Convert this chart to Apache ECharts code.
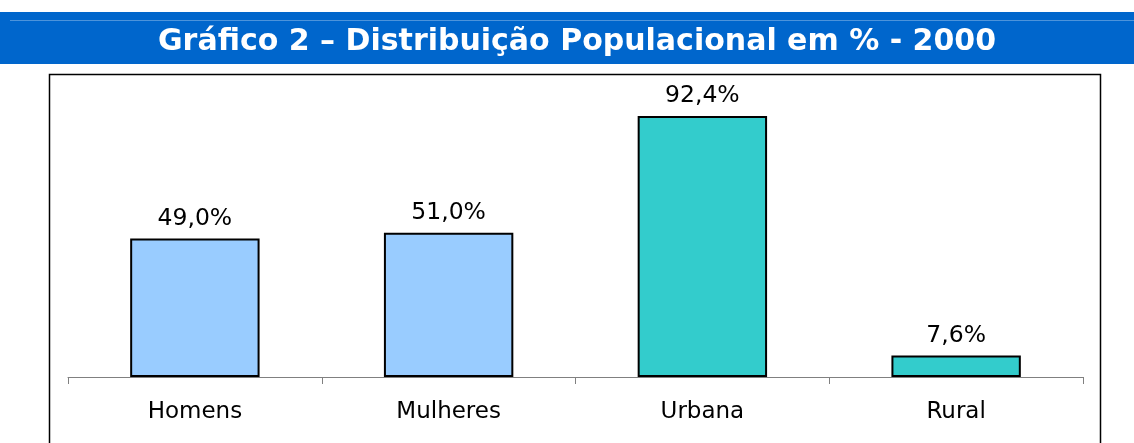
<!DOCTYPE html>
<html>
<head>
    <meta charset="utf-8">
    <title>Gráfico 2</title>
    <script src="https://cdn.jsdelivr.net/npm/echarts@6/dist/echarts.min.js"></script>
    <style>
        html, body {
            margin: 0;
            padding: 0;
            width: 100%;
            height: 100%;
            overflow: hidden;
            background: #ffffff;
        }
        #chart {
            width: 1134px;
            height: 443px;
        }
    </style>
</head>
<body>
    <div id="chart"></div>
    <script>
        // dados
        const categorias = ['Homens', 'Mulheres', 'Urbana', 'Rural'];
        const valores = [49.0, 51.0, 92.4, 7.6];
        const cores = ['#99CCFF', '#99CCFF', '#33CCCC', '#33CCCC'];
        const titulo = 'Gráfico 2 – Distribuição Populacional em % - 2000';

        const chart = echarts.init(document.getElementById('chart'), null, { renderer: 'canvas' });

        const option = {
            backgroundColor: '#ffffff',
            animation: false,
            title: {
                text: titulo,
                left: 158,
                top: 27,
                padding: 0,
                textStyle: {
                    color: '#ffffff',
                    fontFamily: 'DejaVu Sans',
                    fontWeight: 'bold',
                    fontSize: 30,
                    lineHeight: 30
                }
            },
            graphic: [
                // faixa azul do título
                {
                    type: 'rect',
                    z: -10,
                    shape: { x: 0, y: 12, width: 1134, height: 52 },
                    style: { fill: '#0066CC' }
                },
                {
                    type: 'line',
                    z: -9,
                    shape: { x1: 10, y1: 20.5, x2: 1134, y2: 20.5 },
                    style: { stroke: '#4D94DB', lineWidth: 1 }
                },
                // moldura do gráfico
                {
                    type: 'rect',
                    z: -10,
                    shape: { x: 49.5, y: 74.5, width: 1051, height: 380 },
                    style: { fill: '#ffffff', stroke: '#000000', lineWidth: 1.5 }
                }
            ],
            grid: {
                left: 68,
                right: 51,
                top: 94.4,
                bottom: 66
            },
            xAxis: {
                type: 'category',
                data: categorias,
                boundaryGap: true,
                axisLine: {
                    show: true,
                    lineStyle: { color: '#808080', width: 1 }
                },
                axisTick: {
                    show: true,
                    length: 7,
                    lineStyle: { color: '#808080', width: 1 }
                },
                axisLabel: {
                    color: '#000000',
                    fontFamily: 'DejaVu Sans',
                    fontSize: 23,
                    margin: 24
                }
            },
            yAxis: {
                type: 'value',
                min: 0,
                max: 100,
                show: false,
                splitLine: { show: false }
            },
            series: [{
                type: 'bar',
                barWidth: '51%',
                data: valores.map((v, i) => ({
                    value: v,
                    itemStyle: { color: cores[i] }
                })),
                itemStyle: {
                    borderColor: '#000000',
                    borderWidth: 2
                },
                label: {
                    show: true,
                    position: 'top',
                    distance: 8,
                    color: '#000000',
                    fontFamily: 'DejaVu Sans',
                    fontSize: 23.5,
                    formatter: (p) => p.value.toFixed(1).replace('.', ',') + '%'
                }
            }]
        };

        chart.setOption(option);
    </script>
</body>
</html>
